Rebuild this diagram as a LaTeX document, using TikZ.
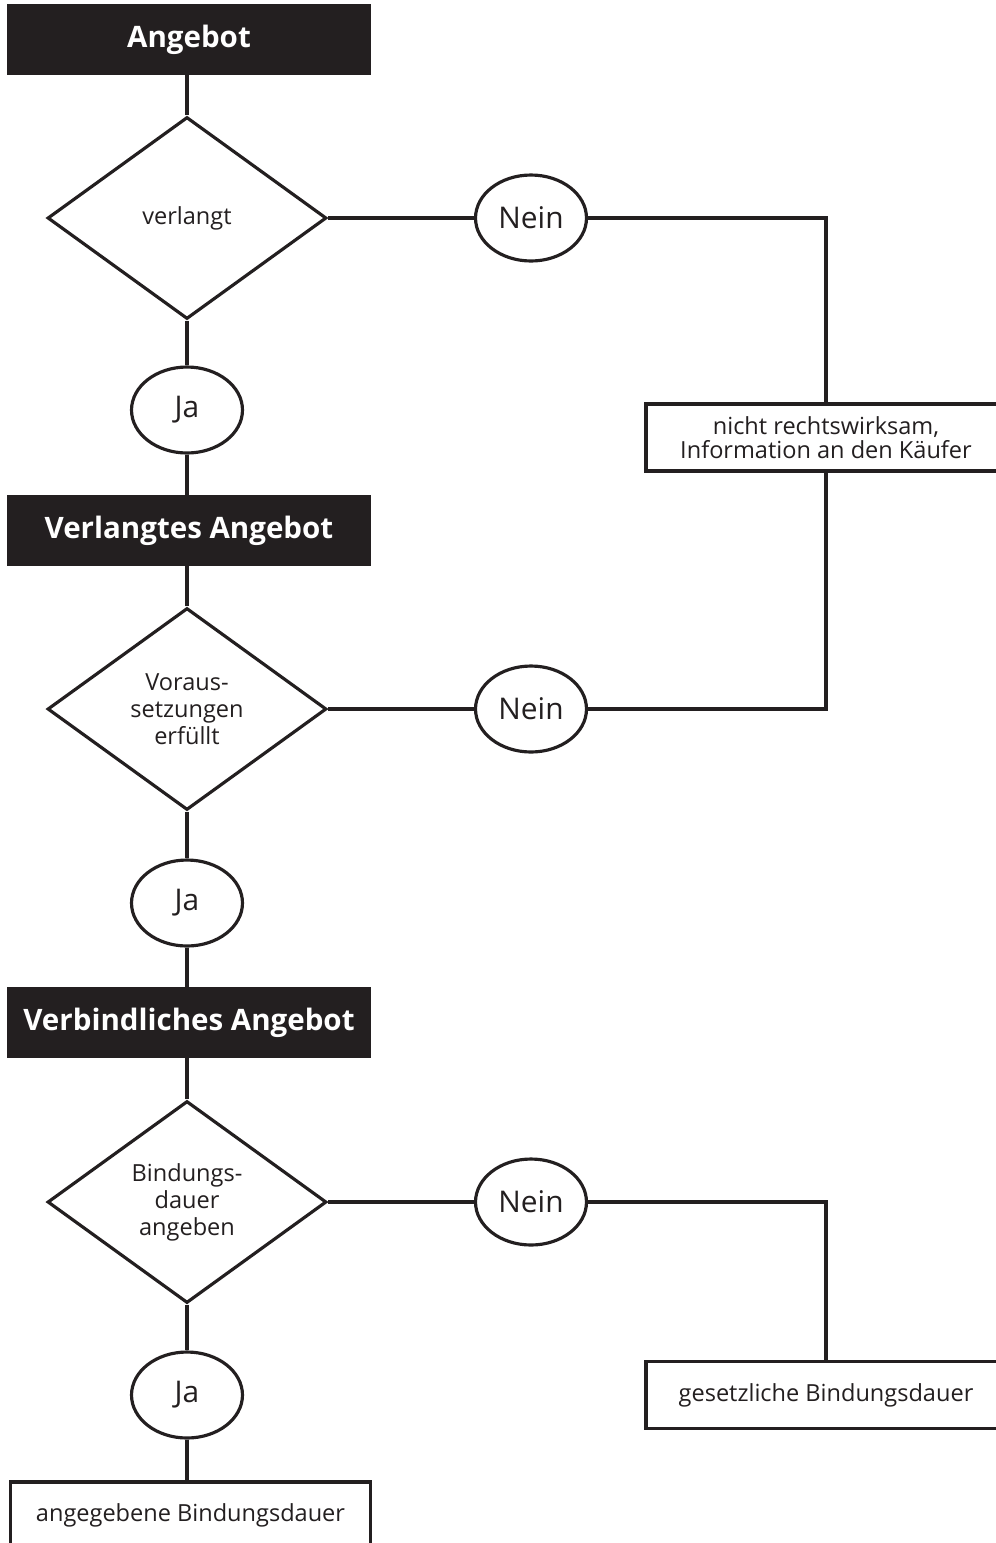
\documentclass[tikz,border=0pt]{standalone}
\usepackage{fontspec}
\setmainfont{Open Sans}
\usepackage{tikz}
\usetikzlibrary{shapes.geometric}
\definecolor{ink}{HTML}{231F20}

\begin{document}
\begin{tikzpicture}[x=0.02cm, y=-0.02cm,
		line width=1.8pt, draw=ink, color=ink,
		titlebox/.style={rectangle, fill=ink, draw=ink, text=white, minimum width=7.2cm, minimum height=1.34cm, inner sep=0pt, font=\bfseries\fontsize{16.8}{19}\selectfont},
		textbox/.style={rectangle, draw=ink, fill=white, text=ink, minimum width=7.2cm, minimum height=1.34cm, inner sep=0pt, align=center, font=\fontsize{13.4}{13.6}\selectfont},
		query/.style={diamond, draw=ink, fill=white, text=ink, aspect=1.38, minimum width=5.58cm, minimum height=4.04cm, inner sep=0pt, align=center, font=\fontsize{13.4}{15.3}\selectfont},
		answer/.style={ellipse, draw=ink, fill=white, text=ink, minimum width=2.22cm, minimum height=1.72cm, inner sep=0pt, font=\fontsize{17}{19}\selectfont}]
			%%%%% START %%%%%
			
			\useasboundingbox (0, 0) rectangle (995, 1543);
			
			% left column
			\node[titlebox] (angebot) at (189, 39.5) {Angebot};
			\node[query] (verlangt) at (187, 218) {verlangt};
			\node[answer] (ja1) at (187, 410) {Ja};
			\node[titlebox] (verlangtes) at (189, 530.5) {Verlangtes Angebot};
			\node[query] (voraus) at (187, 709) {Voraus-\\setzungen\\erfüllt};
			\node[answer] (ja2) at (187, 903) {Ja};
			\node[titlebox] (verbindlich) at (189, 1022.5) {Verbindliches Angebot};
			\node[query] (bindung) at (187, 1202) {Bindungs-\\dauer\\angeben};
			\node[answer] (ja3) at (187, 1395) {Ja};
			\node[textbox] (angegeben) at (190.5, 1515.5) {angegebene Bindungsdauer};
			
			% middle column
			\node[answer] (nein1) at (531, 218) {Nein};
			\node[answer] (nein2) at (531, 709) {Nein};
			\node[answer] (nein3) at (531, 1202) {Nein};
			
			% right column
			\node[textbox] (unwirksam) at (826, 437.5) {nicht rechtswirksam,\\Information an den Käufer};
			\node[textbox] (gesetzlich) at (826, 1395) {gesetzliche Bindungsdauer};
			
			% connectors
			\draw (verlangt.north) -- (verlangt.north |- angebot.south);
			\draw (verlangt.south) -- (ja1.north);
			\draw (ja1.south) -- (ja1.south |- verlangtes.north);
			\draw (voraus.north) -- (voraus.north |- verlangtes.south);
			\draw (voraus.south) -- (ja2.north);
			\draw (ja2.south) -- (ja2.south |- verbindlich.north);
			\draw (bindung.north) -- (bindung.north |- verbindlich.south);
			\draw (bindung.south) -- (ja3.north);
			\draw (ja3.south) -- (ja3.south |- angegeben.north);
			
			\draw (verlangt.east) -- (nein1.west);
			\draw (voraus.east) -- (nein2.west);
			\draw (bindung.east) -- (nein3.west);
			
			\draw (nein1.east) -| (unwirksam.north);
			\draw (nein2.east) -| (unwirksam.south);
			\draw (nein3.east) -| (gesetzlich.north);
			
			%%%%% END %%%%%
		\end{tikzpicture}
\end{document}
